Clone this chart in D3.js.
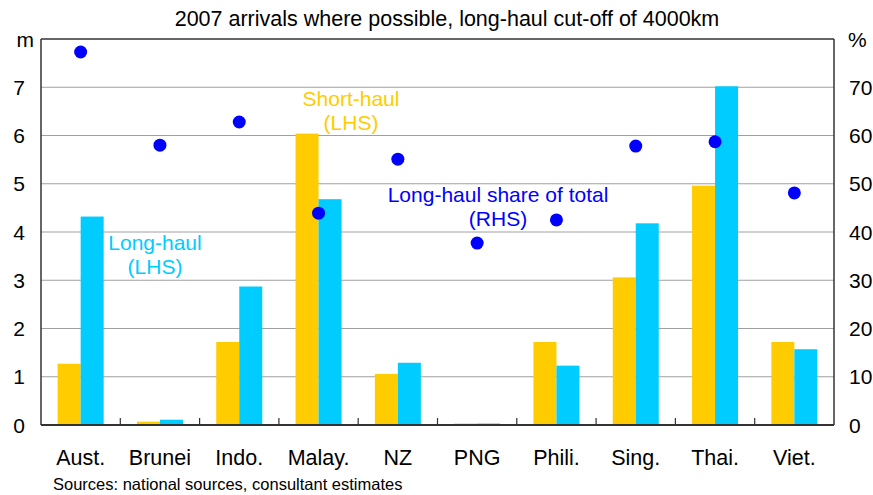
<!DOCTYPE html>
<html>
<head>
<meta charset="utf-8">
<script src="https://cdn.jsdelivr.net/npm/d3@7"></script>
<style>
  body { margin: 0; background: #fff; }
  text { font-family: "Liberation Sans", Arial, sans-serif; }
</style>
</head>
<body>
<svg width="873" height="495"></svg>
<script>
var categories = ["Aust.", "Brunei", "Indo.", "Malay.", "NZ", "PNG", "Phili.", "Sing.", "Thai.", "Viet."];
var shortHaul = [1.27, 0.07, 1.72, 6.04, 1.06, 0.03, 1.72, 3.06, 4.96, 1.72];
var longHaul  = [4.32, 0.11, 2.87, 4.68, 1.29, 0.03, 1.23, 4.18, 7.02, 1.57];
var longShare = [77.3, 58.0, 62.8, 43.9, 55.1, 37.7, 42.5, 57.8, 58.7, 48.1];
var leftTicks = [0, 1, 2, 3, 4, 5, 6, 7];
var rightTicks = [0, 10, 20, 30, 40, 50, 60, 70];

var svg = d3.select("svg");
var plotL = 41, plotR = 834, plotT = 39, plotB = 425;

var x = d3.scaleBand().domain(categories).range([plotL, plotR]).paddingInner(0).paddingOuter(0);
var yL = d3.scaleLinear().domain([0, 8]).range([plotB, plotT]);
var yR = d3.scaleLinear().domain([0, 80]).range([plotB, plotT]);
var barW = 23;

// gridlines
svg.append("g").selectAll("line")
   .data(leftTicks.filter(function(d) { return d > 0; }))
   .enter().append("line")
   .attr("x1", plotL).attr("x2", plotR)
   .attr("y1", function(d) { return yL(d); })
   .attr("y2", function(d) { return yL(d); })
   .attr("stroke", "#a0a0a0").attr("stroke-width", 1);

// bars
var groups = svg.append("g").selectAll("g")
   .data(categories).enter().append("g");
groups.append("rect")
   .attr("x", function(d) { return x(d) + x.bandwidth() / 2 - barW; })
   .attr("width", barW)
   .attr("y", function(d, i) { return yL(shortHaul[i]); })
   .attr("height", function(d, i) { return plotB - yL(shortHaul[i]); })
   .attr("fill", "#FFCC00");
groups.append("rect")
   .attr("x", function(d) { return x(d) + x.bandwidth() / 2; })
   .attr("width", barW)
   .attr("y", function(d, i) { return yL(longHaul[i]); })
   .attr("height", function(d, i) { return plotB - yL(longHaul[i]); })
   .attr("fill", "#00CCFF");

// frame
svg.append("line").attr("x1", plotL).attr("x2", plotR).attr("y1", plotT).attr("y2", plotT)
   .attr("stroke", "#333").attr("stroke-width", 1.5);
svg.append("line").attr("x1", plotL).attr("x2", plotL).attr("y1", plotT).attr("y2", plotB)
   .attr("stroke", "#333").attr("stroke-width", 1.5);
svg.append("line").attr("x1", plotR).attr("x2", plotR).attr("y1", plotT).attr("y2", plotB)
   .attr("stroke", "#333").attr("stroke-width", 1.5);
svg.append("line").attr("x1", plotL).attr("x2", plotR).attr("y1", plotB).attr("y2", plotB)
   .attr("stroke", "#333").attr("stroke-width", 2);

// category boundary ticks
svg.append("g").selectAll("line")
   .data(categories.slice(1)).enter().append("line")
   .attr("x1", function(d) { return x(d); })
   .attr("x2", function(d) { return x(d); })
   .attr("y1", plotB).attr("y2", plotB - 7)
   .attr("stroke", "#333").attr("stroke-width", 1.2);

// dots
svg.append("g").selectAll("circle")
   .data(categories).enter().append("circle")
   .attr("cx", function(d) { return x(d) + x.bandwidth() / 2; })
   .attr("cy", function(d, i) { return yR(longShare[i]); })
   .attr("r", 6.5)
   .attr("fill", "#0000FF");

// left axis labels
svg.append("g").selectAll("text")
   .data(leftTicks).enter().append("text")
   .attr("x", 25).attr("y", function(d) { return yL(d) + 7.5; })
   .attr("text-anchor", "end").attr("font-size", 21).attr("fill", "#000")
   .text(function(d) { return d; });
svg.append("text").attr("x", 34).attr("y", 47).attr("text-anchor", "end")
   .attr("font-size", 21).text("m");

// right axis labels
svg.append("g").selectAll("text")
   .data(rightTicks).enter().append("text")
   .attr("x", 849).attr("y", function(d) { return yR(d) + 7.5; })
   .attr("text-anchor", "start").attr("font-size", 21).attr("fill", "#000")
   .text(function(d) { return d; });
svg.append("text").attr("x", 848).attr("y", 47).attr("text-anchor", "start")
   .attr("font-size", 21).text("%");

// category labels
svg.append("g").selectAll("text")
   .data(categories).enter().append("text")
   .attr("x", function(d) { return x(d) + x.bandwidth() / 2; })
   .attr("y", 465)
   .attr("text-anchor", "middle").attr("font-size", 21.5)
   .text(function(d) { return d; });

// title
svg.append("text").attr("x", 447).attr("y", 26).attr("text-anchor", "middle")
   .attr("font-size", 21.5).text("2007 arrivals where possible, long-haul cut-off of 4000km");

// source
svg.append("text").attr("x", 53).attr("y", 490).attr("font-size", 16.5)
   .text("Sources: national sources, consultant estimates");

// annotations
function note(lines, cx, y0, colour) {
  svg.append("g").selectAll("text")
     .data(lines).enter().append("text")
     .attr("x", cx).attr("y", function(d, i) { return y0 + i * 24; })
     .attr("text-anchor", "middle").attr("font-size", 21).attr("fill", colour)
     .text(function(d) { return d; });
}
note(["Short-haul", "(LHS)"], 351, 106, "#FFCC00");
note(["Long-haul", "(LHS)"], 155, 250, "#00CCFF");
note(["Long-haul share of total", "(RHS)"], 498, 202, "#0000FF");
</script>
</body>
</html>
